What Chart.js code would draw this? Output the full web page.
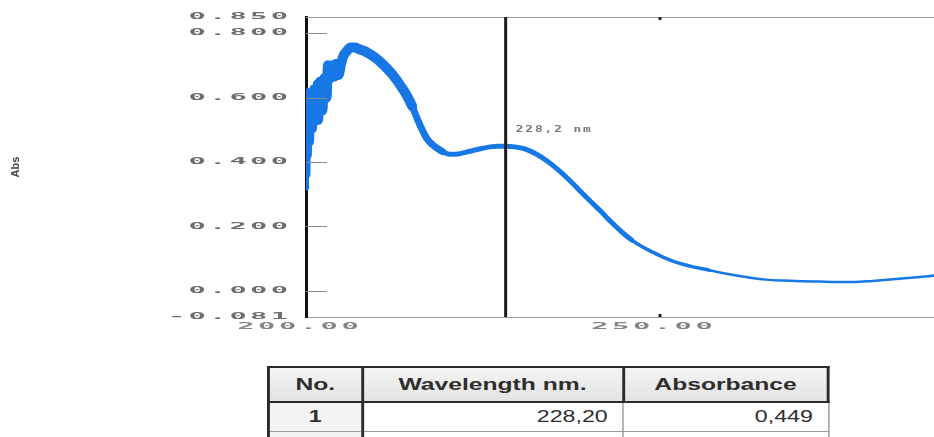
<!DOCTYPE html>
<html>
<head>
<meta charset="utf-8">
<script src="https://cdn.jsdelivr.net/npm/chart.js@4"></script>
<style>
  body { margin: 0; background: #fff; overflow: hidden; width: 934px; height: 437px; position: relative; }
  #wrap { position: absolute; left: 0; top: 0; width: 934px; height: 345px; }
  #result { position: absolute; left: 267px; top: 366px; width: 388px; border-collapse: collapse;
            transform: scaleX(1.45); transform-origin: 0 0; font-family: "Liberation Sans", Arial, sans-serif; color: #2e2e2e; }
  #result th { height: 33px; border: 2px solid #2b2b2b; background: linear-gradient(#f4f4f4, #e3e3e3);
               font-size: 17px; font-weight: bold; text-align: center; padding: 0; }
  #result td { height: 28px; border: 1px solid #9a9a9a; font-size: 16px; text-align: right; padding: 0 10px 0 0; }
  #result td.no { text-align: center; font-weight: bold; background: #f3f3f3; padding: 0;
                  border-left: 2px solid #2b2b2b; border-right: 2px solid #2b2b2b; }
</style>
</head>
<body>
<div id="wrap"><canvas id="specChart" width="934" height="345"></canvas></div>
<table id="result">
  <colgroup><col style="width:65px"><col style="width:181px"><col style="width:142px"></colgroup>
  <thead><tr id="headRow"></tr></thead>
  <tbody id="bodyRows"></tbody>
</table>
<script>
// spectrum (nm / Abs)
const wavelengths = [200.0, 200.1, 200.2, 200.3, 200.4, 200.5, 200.7, 200.9, 201.1, 201.4, 201.7,
  202.0, 202.3, 202.6, 202.9, 203.1, 203.4, 203.7, 204.0, 204.3, 204.6, 204.9, 205.3, 205.8, 206.3,
  206.9, 207.5, 208.2, 209.0, 210.0, 211.0, 212.0, 212.8, 213.5, 214.2, 215.0, 215.6, 216.3, 217.0,
  217.8, 218.5, 219.3, 220.3, 221.5, 222.5, 223.5, 224.8, 226.0, 227.0, 228.2, 229.5, 231.0, 232.5,
  234.0, 235.5, 237.0, 238.5, 240.0, 241.5, 243.0, 244.5, 246.0, 247.5, 249.0, 250.5, 252.0, 253.5,
  255.0, 257.0, 259.0, 261.0, 263.0, 265.0, 267.5, 270.0, 272.5, 275.0, 277.5, 280.0, 282.5, 285.0,
  287.5, 289.0];
const absorbance = [0.32, 0.60, 0.36, 0.62, 0.42, 0.62, 0.46, 0.63, 0.50, 0.645, 0.53,
  0.65, 0.56, 0.66, 0.60, 0.70, 0.66, 0.70, 0.665, 0.705, 0.67, 0.70, 0.73, 0.745, 0.755,
  0.755, 0.75, 0.745, 0.735, 0.72, 0.70, 0.677, 0.655, 0.632, 0.608, 0.573, 0.54, 0.505, 0.475,
  0.455, 0.443, 0.432, 0.424, 0.425, 0.430, 0.435, 0.442, 0.447, 0.449, 0.449, 0.447, 0.440, 0.425,
  0.404, 0.378, 0.348, 0.315, 0.282, 0.250, 0.216, 0.185, 0.158, 0.137, 0.120, 0.104, 0.091, 0.081,
  0.073, 0.064, 0.055, 0.047, 0.040, 0.035, 0.032, 0.030, 0.029, 0.028, 0.028, 0.031, 0.035, 0.040,
  0.045, 0.048];

const xTickValues = [200, 250];
const xTickLabels = ['200.00', '250.00'];
const yTickValues = [-0.081, 0, 0.2, 0.4, 0.6, 0.8, 0.85];
const yTickLabels = ['-0.081', '0.000', '0.200', '0.400', '0.600', '0.800', '0.850'];
const peakWavelength = 228.2;
const peakLabel = '228,2 nm';
const peakLabelAbs = 0.50;

const tableHeaders = ['No.', 'Wavelength nm.', 'Absorbance'];
const tableRows = [['1', '228,20', '0,449'], ['', '', '']];

// wide, blurry instrument-style text
function wideText(ctx, text, x, y, align, size, sx, spacing, color, bold) {
    ctx.save();
    ctx.font = (bold ? 'bold ' : '') + size + 'px "DejaVu Sans Mono"';
    ctx.fillStyle = color;
    ctx.textBaseline = 'middle';
    ctx.textAlign = align;
    ctx.letterSpacing = spacing + 'px';
    let shift = 0;
    if (align === 'right') shift = spacing * sx;
    if (align === 'center') shift = spacing * sx / 2;
    ctx.translate(x + shift, y);
    ctx.scale(sx, 1);
    ctx.fillText(text, 0, 0);
    ctx.restore();
}

const framePlugin = {
    id: 'frame',
    afterDatasetsDraw(chart) {
        const ctx = chart.ctx;
        const area = chart.chartArea;
        const xs = chart.scales.x, ys = chart.scales.y;

        ctx.save();
        // top frame line
        ctx.strokeStyle = '#9a9a9a';
        ctx.lineWidth = 1;
        ctx.beginPath();
        ctx.moveTo(area.left, area.top + 0.5);
        ctx.lineTo(area.right, area.top + 0.5);
        ctx.stroke();

        // inward y ticks
        ctx.strokeStyle = '#8a8a8a';
        yTickValues.forEach(v => {
            if (v <= ys.min || v >= ys.max) return;
            const py = Math.round(ys.getPixelForValue(v)) + 0.5;
            ctx.beginPath();
            ctx.moveTo(area.left, py);
            ctx.lineTo(area.left + 21, py);
            ctx.stroke();
        });

        // small x ticks top and bottom
        ctx.strokeStyle = '#222';
        ctx.lineWidth = 3;
        xTickValues.forEach(v => {
            if (v <= xs.min) return;
            const px = xs.getPixelForValue(v);
            ctx.beginPath();
            ctx.moveTo(px, area.top);
            ctx.lineTo(px, area.top + 3);
            ctx.moveTo(px, area.bottom - 3);
            ctx.lineTo(px, area.bottom);
            ctx.stroke();
        });

        // marker line at the selected peak
        const mx = xs.getPixelForValue(peakWavelength);
        ctx.strokeStyle = '#1c1c1c';
        ctx.lineWidth = 3;
        ctx.beginPath();
        ctx.moveTo(mx, area.top);
        ctx.lineTo(mx, area.bottom);
        ctx.stroke();
        ctx.restore();

        wideText(ctx, peakLabel, mx + 10, ys.getPixelForValue(peakLabelAbs), 'left', 8, 1.6, 1.2, '#777', true);

        yTickValues.forEach((v, i) => {
            wideText(ctx, yTickLabels[i], area.left - 18, ys.getPixelForValue(v), 'right', 9, 3.2, 1.0, '#6e6e6e', true);
        });
        xTickValues.forEach((v, i) => {
            wideText(ctx, xTickLabels[i], xs.getPixelForValue(v) - 8, area.bottom + 10, 'center', 9, 3.2, 1.1, '#858585', true);
        });
    }
};

function lineWidthAt(nm) {
    if (nm < 201.5) return 6;
    if (nm < 215) return 10;
    if (nm < 219) return 7;
    if (nm < 246) return 5;
    if (nm < 256) return 3.5;
    return 2.5;
}

const points = wavelengths.map((w, i) => ({ x: w, y: absorbance[i] }));

new Chart(document.getElementById('specChart'), {
    type: 'line',
    data: {
        datasets: [{
            data: points,
            borderColor: '#1677e5',
            borderWidth: 5,
            pointRadius: 0,
            cubicInterpolationMode: 'monotone',
            borderJoinStyle: 'round',
            borderCapStyle: 'round',
            segment: { borderWidth: c => lineWidthAt(c.p0.parsed.x) }
        }]
    },
    options: {
        responsive: false,
        animation: false,
        layout: { padding: { top: 17, right: 0, left: 0, bottom: 0 } },
        plugins: { legend: { display: false }, tooltip: { enabled: false } },
        scales: {
            x: {
                type: 'linear', min: 200, max: 288.7,
                ticks: { display: false },
                grid: { display: false },
                border: { display: true, color: '#9a9a9a', width: 1 },
                afterFit: s => { s.height = 28; }
            },
            y: {
                min: -0.081, max: 0.85,
                ticks: { display: false },
                grid: { display: false },
                border: { display: true, color: '#111', width: 3 },
                title: { display: true, text: 'Abs', color: '#444', font: { size: 11, weight: 'bold' }, padding: { top: 9, bottom: 0 } },
                afterFit: s => { s.width = 306; }
            }
        }
    },
    plugins: [framePlugin]
});

// result table
const headRow = document.getElementById('headRow');
tableHeaders.forEach(h => {
    const th = document.createElement('th');
    th.textContent = h;
    headRow.appendChild(th);
});
const body = document.getElementById('bodyRows');
tableRows.forEach(r => {
    const tr = document.createElement('tr');
    r.forEach((cell, i) => {
        const td = document.createElement('td');
        td.textContent = cell;
        if (i === 0) td.className = 'no';
        tr.appendChild(td);
    });
    body.appendChild(tr);
});
</script>
</body>
</html>
